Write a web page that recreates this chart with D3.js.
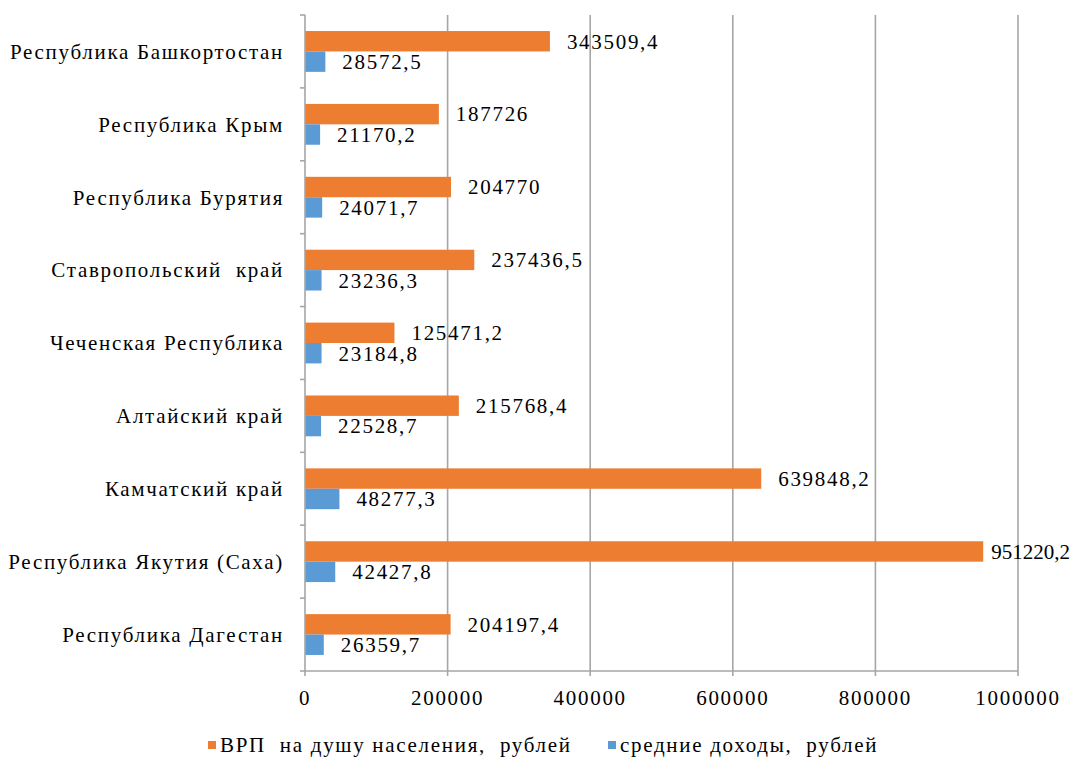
<!DOCTYPE html>
<html>
<head>
<meta charset="utf-8">
<script src="https://cdn.jsdelivr.net/npm/d3@7"></script>
<style>
  html, body { margin: 0; padding: 0; background: #fff; }
  svg { display: block; }
</style>
</head>
<body>
<script>
var regions = [
  "Республика Башкортостан",
  "Республика Крым",
  "Республика Бурятия",
  "Ставропольский  край",
  "Чеченская Республика",
  "Алтайский край",
  "Камчатский край",
  "Республика Якутия (Саха)",
  "Республика Дагестан"
];
var grpValues = [343509.4, 187726, 204770, 237436.5, 125471.2, 215768.4, 639848.2, 951220.2, 204197.4];
var incomeValues = [28572.5, 21170.2, 24071.7, 23236.3, 23184.8, 22528.7, 48277.3, 42427.8, 26359.7];
var seriesNames = ["ВРП  на душу населения,  рублей", "средние доходы,  рублей"];
var seriesKeys = ["grp", "income"];
var xTicks = [0, 200000, 400000, 600000, 800000, 1000000];

var rows = regions.map(function(r, i) {
  return { region: r, grp: grpValues[i], income: incomeValues[i] };
});

var width = 1074, height = 760;

var color = d3.scaleOrdinal()
    .domain(seriesKeys)
    .range(["#ED7D31", "#5B9BD5"]);

var svg = d3.select("body")
  .append("svg")
    .attr("width", width)
    .attr("height", height);

// the source text is wide, so spread the letters a little
function label(sel) {
  return sel.attr("font-family", "Liberation Serif")
      .attr("font-size", 21)
      .attr("letter-spacing", 1.7)
      .attr("fill", "#000");
}

var x = d3.scaleLinear()
    .domain([0, 1000000])
    .range([305, 1018]);

var y = d3.scaleBand()
    .domain(regions)
    .range([15, 671])
    .paddingInner(0.44)
    .paddingOuter(0.22);

var y1 = d3.scaleBand()
    .domain(seriesKeys)
    .range([0, y.bandwidth()]);

// grid lines
svg.append("g")
    .selectAll("line")
    .data(xTicks.slice(1))
  .enter().append("line")
    .attr("x1", function(d) { return x(d); })
    .attr("x2", function(d) { return x(d); })
    .attr("y1", 15)
    .attr("y2", 671)
    .attr("stroke", "#a6a6a6")
    .attr("stroke-width", 1.6);

// bars
var groups = svg.append("g")
    .selectAll("g")
    .data(rows)
  .enter().append("g")
    .attr("transform", function(d) { return "translate(0," + y(d.region) + ")"; });

groups.selectAll("rect")
    .data(function(d) { return seriesKeys.map(function(k) { return { key: k, value: d[k] }; }); })
  .enter().append("rect")
    .attr("x", x(0))
    .attr("y", function(d) { return y1(d.key); })
    .attr("width", function(d) { return x(d.value) - x(0); })
    .attr("height", y1.bandwidth())
    .attr("fill", function(d) { return color(d.key); });

var rightLimit = 1070;
groups.selectAll("text")
    .data(function(d) { return seriesKeys.map(function(k) { return { key: k, value: d[k] }; }); })
  .enter().append("text")
    .call(label)
    .attr("x", function(d) { return x(d.value) + 17; })
    .attr("y", function(d) { return y1(d.key) + y1.bandwidth() / 2; })
    .attr("dy", "0.35em")
    .text(function(d) { return String(d.value).replace(".", ","); })
    .each(function(d) {
      // keep the label inside the picture, as the original does
      var x0 = x(d.value) + 17;
      if (x0 + this.getComputedTextLength() > rightLimit) {
        var t = d3.select(this).attr("letter-spacing", 0);
        var w = this.getComputedTextLength();
        t.attr("x", Math.max(x(d.value) + 6, rightLimit - w));
      }
    });

// y axis
var yAxis = svg.append("g")
    .attr("transform", "translate(" + x(0) + ",0)");
yAxis.append("line")
    .attr("y1", 15).attr("y2", 671)
    .attr("stroke", "#a6a6a6")
    .attr("stroke-width", 1.6);
yAxis.selectAll("line.tick")
    .data(d3.range(regions.length + 1))
  .enter().append("line")
    .attr("class", "tick")
    .attr("x1", -5).attr("x2", 0)
    .attr("y1", function(i) { return 15 + i * y.step(); })
    .attr("y2", function(i) { return 15 + i * y.step(); })
    .attr("stroke", "#a6a6a6")
    .attr("stroke-width", 1.6);
yAxis.selectAll("text")
    .data(regions)
  .enter().append("text")
    .call(label)
    .attr("x", -21)
    .attr("y", function(d) { return y(d) + y.bandwidth() / 2; })
    .attr("dy", "0.35em")
    .attr("text-anchor", "end")
    .style("white-space", "pre")
    .text(function(d) { return d; });

// x axis
var xAxis = svg.append("g")
    .attr("transform", "translate(0,671)");
xAxis.append("line")
    .attr("x1", x(0)).attr("x2", x(1000000))
    .attr("stroke", "#a6a6a6")
    .attr("stroke-width", 1.6);
xAxis.selectAll("line.tick")
    .data(xTicks)
  .enter().append("line")
    .attr("class", "tick")
    .attr("x1", function(d) { return x(d); })
    .attr("x2", function(d) { return x(d); })
    .attr("y1", 0).attr("y2", 5)
    .attr("stroke", "#a6a6a6")
    .attr("stroke-width", 1.6);
xAxis.selectAll("text")
    .data(xTicks)
  .enter().append("text")
    .call(label)
    .attr("x", function(d) { return x(d); })
    .attr("y", 27)
    .attr("dy", "0.35em")
    .attr("text-anchor", "middle")
    .text(function(d) { return d; });

// legend
var legendX = [208, 608];
var legend = svg.append("g")
    .selectAll("g")
    .data(seriesKeys)
  .enter().append("g")
    .attr("transform", function(d, i) { return "translate(" + legendX[i] + ",745)"; });
legend.append("rect")
    .attr("x", 0)
    .attr("y", -4)
    .attr("width", 8)
    .attr("height", 8)
    .attr("fill", function(d) { return color(d); });
legend.append("text")
    .call(label)
    .attr("x", 12)
    .attr("y", 0)
    .attr("dy", "0.35em")
    .style("white-space", "pre")
    .text(function(d, i) { return seriesNames[i]; });
</script>
</body>
</html>
